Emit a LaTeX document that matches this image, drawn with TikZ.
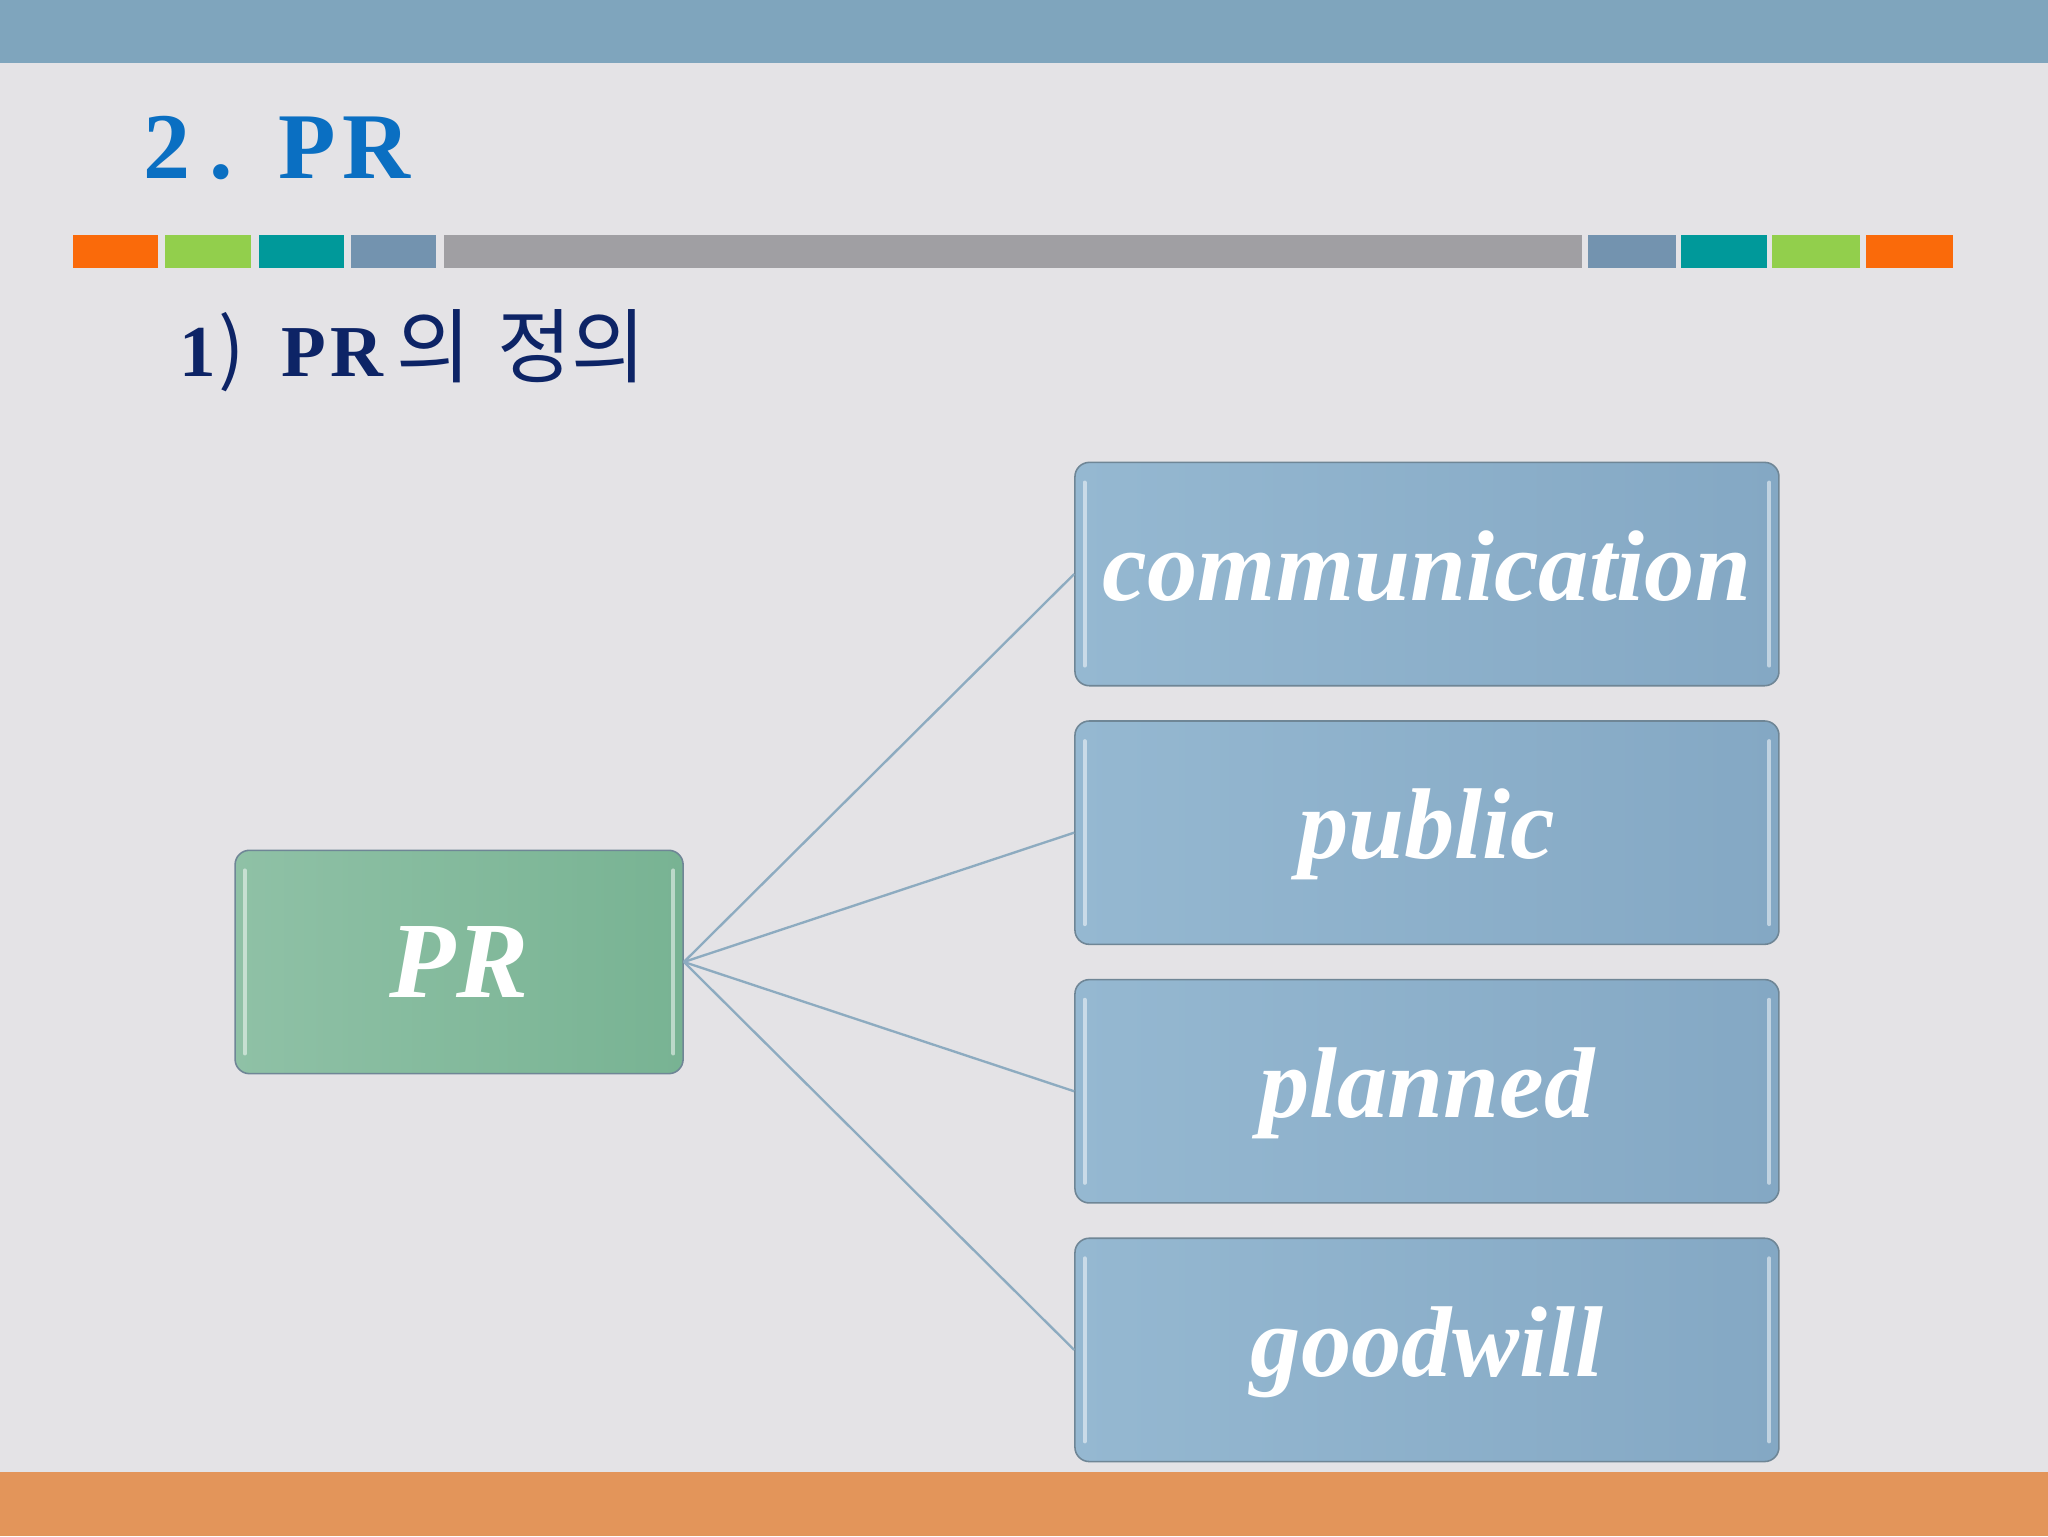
\documentclass[tikz,border=0pt]{standalone}
\usepackage{fontspec}
\setmainfont{Liberation Serif}
\newfontfamily\kr{Noto Sans CJK KR}
\definecolor{topbar}{HTML}{7FA5BD}
\definecolor{botbar}{HTML}{E3955A}
\definecolor{bgc}{HTML}{E4E3E6}
\definecolor{titleblue}{HTML}{0A6FC2}
\definecolor{navy}{HTML}{0D2466}
\definecolor{orangeC}{HTML}{FA6A0A}
\definecolor{greenC}{HTML}{92CF4C}
\definecolor{tealC}{HTML}{00999A}
\definecolor{slateC}{HTML}{7393AF}
\definecolor{grayC}{HTML}{A09FA3}
\definecolor{greenL}{HTML}{8FC1A6}
\definecolor{greenR}{HTML}{78B393}
\definecolor{blueL}{HTML}{95B8D1}
\definecolor{blueR}{HTML}{84A8C4}
\definecolor{boxline}{HTML}{6F8696}
\definecolor{connc}{HTML}{8DABC0}
\begin{document}
\begin{tikzpicture}[x=1pt,y=-1pt,
  itembox/.style={draw=boxline, line width=1.2pt, rounded corners=11pt,
    minimum width=539pt, minimum height=171pt, left color=blueL, right color=blueR,
    text=white, font=\fontsize{77}{80}\selectfont\bfseries\itshape,
    inner sep=0pt, text height=40pt, text depth=0pt},
  rootbox/.style={itembox, minimum width=343pt, left color=greenL, right color=greenR,
    font=\fontsize{83}{86}\selectfont\bfseries\itshape, text height=54pt},
  conn/.style={draw=connc, line width=1.8pt},
  gloss/.style={draw=white, opacity=0.5, line width=3pt, line cap=round}
]
\useasboundingbox (0,0) rectangle (1568,1176);
\fill[bgc] (0,0) rectangle (1568,1176);
\fill[topbar] (0,0) rectangle (1568,48);
\fill[botbar] (0,1127) rectangle (1568,1176);

% title
\node[anchor=base west, inner sep=0pt, text=titleblue,
  font=\fontsize{72}{80}\selectfont\bfseries] (title) at (110,137)
  {2\kern14pt.\kern35pt P\kern5pt R};

% colour bar
\fill[orangeC] (56,180) rectangle (121,205);
\fill[greenC] (126,180) rectangle (192,205);
\fill[tealC] (198,180) rectangle (263,205);
\fill[slateC] (269,180) rectangle (334,205);
\fill[grayC] (340,180) rectangle (1211,205);
\fill[slateC] (1216,180) rectangle (1283,205);
\fill[tealC] (1287,180) rectangle (1353,205);
\fill[greenC] (1357,180) rectangle (1424,205);
\fill[orangeC] (1429,180) rectangle (1495,205);

% subtitle
\node[anchor=base west, inner sep=0pt, text=navy,
  font=\fontsize{56}{60}\selectfont] (sub) at (137,288)
  {\textbf{1}\kern2pt{\kr\fontsize{60}{64}\selectfont )}\kern28pt\textbf{P\kern3pt R}\kern10pt{\kr\fontsize{62}{66}\selectfont 의\kern20pt 정의}};

% boxes
\node[rootbox] (pr) at (351.5,736.5) {PR};
\node[itembox] (c1) at (1092.5,439.5) {communication};
\node[itembox] (c2) at (1092.5,637.5) {public};
\node[itembox] (c3) at (1092.5,835.5) {planned};
\node[itembox] (c4) at (1092.5,1033.5) {goodwill};

\foreach \n in {pr,c1,c2,c3,c4}{
  \draw[gloss] ([xshift=8pt,yshift=-16pt]\n.north west) -- ([xshift=8pt,yshift=16pt]\n.south west);
  \draw[gloss] ([xshift=-8pt,yshift=-16pt]\n.north east) -- ([xshift=-8pt,yshift=16pt]\n.south east);
}

% connectors
\foreach \n in {c1,c2,c3,c4}{
  \draw[conn] (pr.east) -- (\n.west);
}
\end{tikzpicture}
\end{document}
